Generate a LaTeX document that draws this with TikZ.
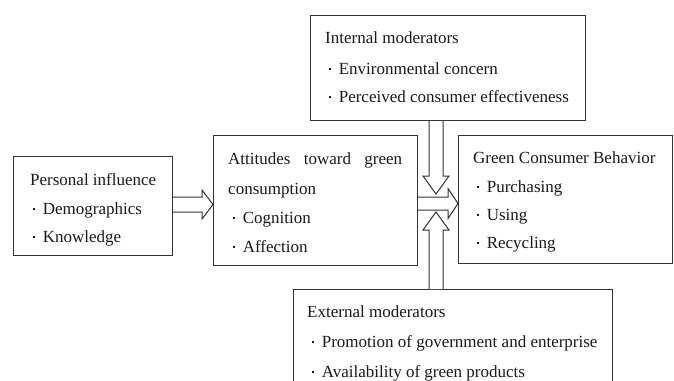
\documentclass[tikz,border=0pt]{standalone}
\usepackage{fontspec}
\setmainfont{Liberation Serif}
\usetikzlibrary{calc}
\newcommand\mybul{\rule[3.8pt]{2.2pt}{2.2pt}\hspace{7.4pt}}
\begin{document}
\begin{tikzpicture}[x=1pt,y=-1pt,
  box/.style={draw=black!80, line width=1pt, inner sep=0pt, anchor=north west},
  txt/.style={anchor=base west, inner sep=0pt, font=\fontsize{17}{20}\selectfont, text=black!90},
  barrow/.style={draw=black!80, line width=1pt, fill=white, line join=miter}]
\useasboundingbox (0,0) rectangle (674,380);
\clip (0,0) rectangle (674,380);
% boxes
\node[box, minimum width=159pt, minimum height=99pt] (pi) at (13,156) {};
\node[box, minimum width=204pt, minimum height=130pt] (att) at (213,135) {};
\node[box, minimum width=214pt, minimum height=128pt] (gcb) at (458,135) {};
\node[box, minimum width=275pt, minimum height=105pt] (im) at (310,15) {};
\node[box, minimum width=319pt, minimum height=130pt] (em) at (293,289) {};
% reference coordinates for arrows
\coordinate (h1) at (0,204.5);
\coordinate (h2) at (0,203.5);
\coordinate (v) at (436,0);
% arrows
\draw[barrow] let \p1=(pi.east), \p2=(att.west), \p3=(h1) in
  (\x1,\y3+7.5pt) -- (\x2-11pt,\y3+7.5pt) -- (\x2-11pt,\y3+14.5pt) -- (\x2,\y3)
  -- (\x2-11pt,\y3-14.5pt) -- (\x2-11pt,\y3-7.5pt) -- (\x1,\y3-7.5pt);
\draw[barrow] let \p1=(att.east), \p2=(gcb.west), \p3=(h2) in
  (\x1,\y3+6.5pt) -- (\x2-10pt,\y3+6.5pt) -- (\x2-10pt,\y3+15pt) -- (\x2,\y3)
  -- (\x2-10pt,\y3-15pt) -- (\x2-10pt,\y3-6.5pt) -- (\x1,\y3-6.5pt);
\draw[barrow] let \p1=(im.south), \p3=(v) in
  (\x3-7pt,\y1) -- (\x3-7pt,\y1-55pt) -- (\x3-13pt,\y1-55pt) -- (\x3,\y1-73pt)
  -- (\x3+13pt,\y1-55pt) -- (\x3+7pt,\y1-55pt) -- (\x3+7pt,\y1);
\draw[barrow] let \p1=(em.north), \p3=(v) in
  (\x3-7pt,\y1) -- (\x3-7pt,\y1+59pt) -- (\x3-13pt,\y1+59pt) -- (\x3,\y1+77pt)
  -- (\x3+13pt,\y1+59pt) -- (\x3+7pt,\y1+59pt) -- (\x3+7pt,\y1);
% texts
\node[txt] (pi1) at (30,185) {Personal influence};
\node[txt] (pi2) at (33,214) {\mybul Demographics};
\node[txt] (pi3) at (33,242) {\mybul Knowledge};
\node[txt] (at1) at (228,164) {\makebox[174pt][s]{Attitudes toward green}};
\node[txt] (at2) at (228,194) {consumption};
\node[txt] (at3) at (233,223) {\mybul Cognition};
\node[txt] (at4) at (233,252) {\mybul Affection};
\node[txt] (im1) at (325,43) {Internal moderators};
\node[txt] (im2) at (329,74) {\mybul Environmental concern};
\node[txt] (im3) at (329,102) {\mybul Perceived consumer effectiveness};
\node[txt] (gc1) at (473,163) {Green Consumer Behavior};
\node[txt] (gc2) at (477,192) {\mybul Purchasing};
\node[txt] (gc3) at (477,220) {\mybul Using};
\node[txt] (gc4) at (477,248) {\mybul Recycling};
\node[txt] (em1) at (307,317) {External moderators};
\node[txt] (em2) at (312,347) {\mybul Promotion of government and enterprise};
\node[txt] (em3) at (312,377) {\mybul Availability of green products};
\end{tikzpicture}
\end{document}
